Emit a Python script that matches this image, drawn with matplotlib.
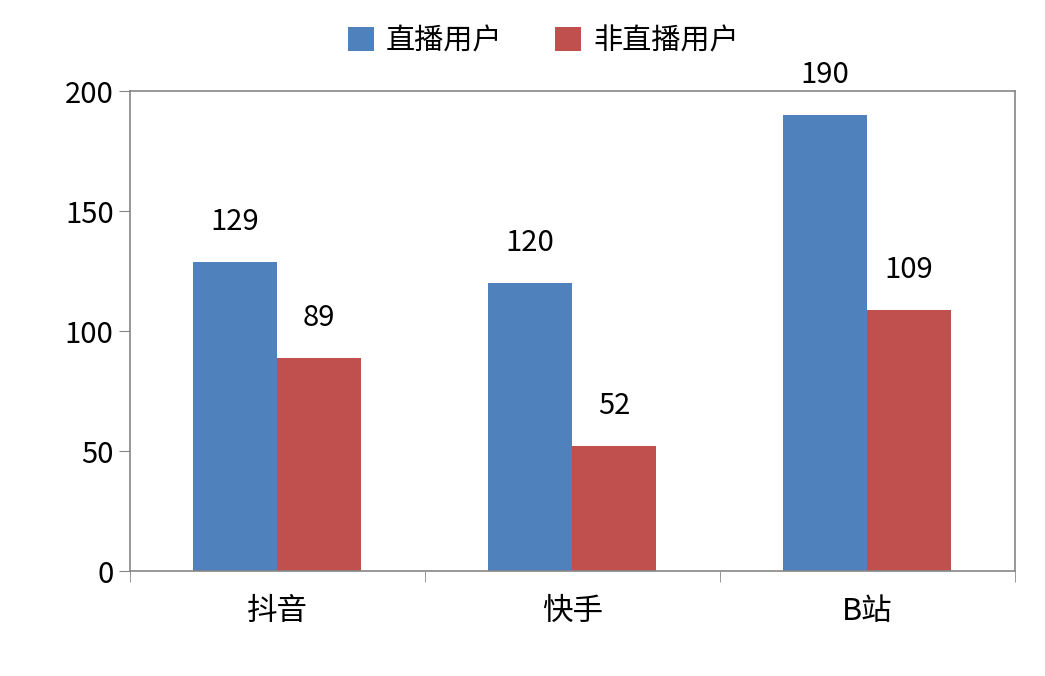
import numpy as np
import matplotlib.pyplot as plt

plt.rcParams['font.family'] = ['Noto Sans CJK SC', 'DejaVu Sans']

categories = ['抖音', '快手', 'B站']
live_users = [129, 120, 190]
non_live_users = [89, 52, 109]
series_names = ['直播用户', '非直播用户']

fig = plt.figure(figsize=(10.45, 6.76), dpi=100)
ax = fig.add_axes([0.124, 0.155, 0.847, 0.71])

x = np.arange(len(categories))
w = 0.285
b1 = ax.bar(x - w/2, live_users, w, color='#4F81BD', label=series_names[0])
b2 = ax.bar(x + w/2, non_live_users, w, color='#C0504D', label=series_names[1])

for bars in (b1, b2):
    for r in bars:
        ax.annotate(str(int(r.get_height())), (r.get_x() + r.get_width()/2, r.get_height()),
                    xytext=(0, 18), textcoords='offset points', ha='center', va='bottom', fontsize=21)

ax.set_xlim(-0.5, 2.5)
ax.set_ylim(0, 200)
ax.set_yticks([0, 50, 100, 150, 200])
ax.set_xticks(x)
ax.set_xticklabels(categories, fontsize=22)
ax.set_xticks([-0.5, 0.5, 1.5, 2.5], minor=True)
ax.tick_params(axis='x', which='major', length=0, pad=18)
ax.tick_params(axis='x', which='minor', length=8, color='#868686', direction='out')
ax.tick_params(axis='y', labelsize=21, length=8, color='#868686', direction='out')
for s in ax.spines.values():
    s.set_color('#868686')
    s.set_linewidth(1.2)

fig.legend(handles=[b1, b2], loc='upper center', bbox_to_anchor=(0.52, 1.0), ncol=2,
           frameon=False, fontsize=21, handlelength=0.9, handleheight=0.9, columnspacing=1.8,
           handletextpad=0.4)

fig.savefig('out.png', dpi=100)
